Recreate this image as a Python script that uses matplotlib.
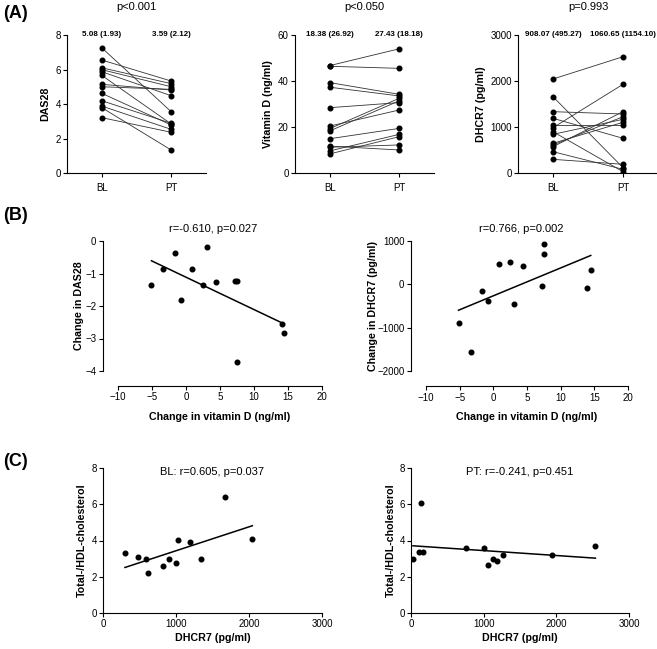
import numpy as np
import matplotlib
matplotlib.use("Agg")
import matplotlib.pyplot as plt

plt.rcParams["font.family"] = ["Liberation Sans Narrow", "Liberation Sans", "DejaVu Sans"]

# (A) paired values, baseline (BL) and post-treatment (PT), one entry per patient
das28_bl = [7.26, 6.55, 6.10, 5.99, 5.87, 5.66, 5.14, 5.00, 4.62, 4.19, 3.88, 3.79, 3.21]
das28_pt = [3.55, 5.33, 5.18, 5.00, 4.48, 2.84, 4.81, 4.85, 2.78, 2.88, 2.53, 1.33, 2.36]
vitd_bl = [46.7, 46.4, 39.3, 37.3, 28.4, 20.4, 19.3, 18.3, 14.9, 11.7, 11.2, 9.6, 8.3]
vitd_pt = [54.0, 45.5, 34.2, 33.5, 30.6, 27.4, 32.5, 31.4, 19.4, 10.0, 12.2, 16.8, 15.8]
dhcr7_bl = [2043, 1659, 1333, 1189, 1043, 985, 898, 841, 646, 609, 572, 463, 297]
dhcr7_pt = [2528, 116, 1283, 754, 1043, 1928, 28, 1167, 1102, 1224, 1333, 80, 189]
groups = ["BL", "PT"]

# (B) changes (PT - BL)
d_vitd_1 = [-5.08, -3.36, -1.64, -0.75, 0.92, 2.54, 3.13, 4.41, 7.22, 7.56, 7.56, 14.1, 14.45]
d_das28 = [-1.34, -0.85, -0.36, -1.80, -0.87, -1.36, -0.18, -1.26, -1.24, -1.23, -3.72, -2.54, -2.82]
d_vitd_2 = [-5.17, -3.34, -1.61, -0.77, 0.85, 2.53, 3.07, 4.36, 7.17, 7.51, 7.56, 13.98, 14.47]
d_dhcr7 = [-900, -1560, -147, -387, 480, 518, -456, 433, -46, 936, 696, -93, 340]

# (C) DHCR7 vs total/HDL cholesterol ratio
bl_dhcr7 = [301, 475, 594, 612, 822, 909, 995, 1032, 1192, 1347, 1667, 2046]
bl_chol = [3.33, 3.07, 2.96, 2.19, 2.57, 2.96, 2.76, 4.04, 3.90, 2.96, 6.40, 4.06]
pt_dhcr7 = [27, 110, 133, 169, 751, 999, 1063, 1122, 1186, 1269, 1938, 2538]
pt_chol = [2.96, 3.38, 6.05, 3.35, 3.57, 3.57, 2.65, 3.00, 2.89, 3.20, 3.18, 3.71]

W, H = 657, 649
TICK = 7
LAB = 7.7


def rect(left, top, right, bottom):
    return [left / W, 1 - bottom / H, (right - left) / W, (bottom - top) / H]


def style(ax):
    for s in ("top", "right"):
        ax.spines[s].set_visible(False)
    for s in ("left", "bottom"):
        ax.spines[s].set_linewidth(0.8)
    ax.tick_params(labelsize=TICK, length=3, width=0.8, pad=1.5)


def paired(ax, bl, pt, ymax, step, ylabel, means, p, labx):
    for a, b in zip(bl, pt):
        ax.plot([0, 1], [a, b], color="#333333", lw=0.6, zorder=1)
    ax.scatter([0] * len(bl), bl, s=11, color="black", zorder=2)
    ax.scatter([1] * len(pt), pt, s=11, color="black", zorder=2)
    ax.set_xlim(-0.5, 1.5)
    ax.set_ylim(0, ymax)
    ax.set_xticks([0, 1])
    ax.set_xticklabels(groups, fontsize=TICK + 0.5)
    ax.set_yticks(np.arange(0, ymax + 1, step))
    style(ax)
    ax.tick_params(axis="x", pad=4)
    ax.set_ylabel(ylabel, fontsize=LAB, fontweight="bold")
    ax.yaxis.set_label_coords(labx, 0.5)
    ax.text(0, ymax, means[0], ha="center", va="center", fontsize=5.8, fontweight="bold")
    ax.text(1, ymax, means[1], ha="center", va="center", fontsize=5.8, fontweight="bold")
    ax.text(0.5, 1.2, p, transform=ax.transAxes, ha="center", va="center", fontsize=8)


def scatter_fit(ax, x, y, title, tx, ty):
    ax.scatter(x, y, s=11, color="black", zorder=2)
    k, c = np.polyfit(x, y, 1)
    xs = np.array([min(x), max(x)])
    ax.plot(xs, k * xs + c, color="black", lw=1.1)
    ax.text(tx, ty, title, transform=ax.transAxes, ha="center", va="center", fontsize=8)
    style(ax)


fig = plt.figure(figsize=(W / 100, H / 100), dpi=100)

# (A)
a1 = fig.add_axes(rect(67, 35, 206, 173))
paired(a1, das28_bl, das28_pt, 8, 2, "DAS28", ["5.08 (1.93)", "3.59 (2.12)"], "p<0.001", -0.122)
a2 = fig.add_axes(rect(295, 35, 434, 173))
paired(a2, vitd_bl, vitd_pt, 60, 20, "Vitamin D (ng/ml)", ["18.38 (26.92)", "27.43 (18.18)"], "p<0.050", -0.158)
a3 = fig.add_axes(rect(518, 35, 658, 173))
paired(a3, dhcr7_bl, dhcr7_pt, 3000, 1000, "DHCR7 (pg/ml)", ["908.07 (495.27)", "1060.65 (1154.10)"], "p=0.993", -0.229)

# (B)
b1 = fig.add_axes(rect(118, 241, 322, 371))
scatter_fit(b1, d_vitd_1, d_das28, "r=-0.610, p=0.027", 0.465, 1.09)
b1.set_xlim(-10, 20)
b1.set_ylim(-4, 0)
b1.set_xticks(np.arange(-10, 21, 5))
b1.set_yticks([0, -1, -2, -3, -4])
b1.spines["left"].set_position(("outward", 11))
b1.spines["bottom"].set_position(("outward", 10.5))
b1.set_ylabel("Change in DAS28", fontsize=LAB, fontweight="bold")
b1.yaxis.set_label_coords(-0.167, 0.5)
b1.set_xlabel("Change in vitamin D (ng/ml)", fontsize=LAB, fontweight="bold")
b1.xaxis.set_label_coords(0.5, -0.315)

b2 = fig.add_axes(rect(426, 241, 628, 371))
scatter_fit(b2, d_vitd_2, d_dhcr7, "r=0.766, p=0.002", 0.47, 1.09)
b2.set_xlim(-10, 20)
b2.set_ylim(-2000, 1000)
b2.set_xticks(np.arange(-10, 21, 5))
b2.set_yticks([1000, 0, -1000, -2000])
b2.spines["left"].set_position(("outward", 11))
b2.spines["bottom"].set_position(("outward", 11))
b2.set_ylabel("Change in DHCR7 (pg/ml)", fontsize=LAB, fontweight="bold")
b2.yaxis.set_label_coords(-0.24, 0.5)
b2.set_xlabel("Change in vitamin D (ng/ml)", fontsize=LAB, fontweight="bold")
b2.xaxis.set_label_coords(0.5, -0.315)

# (C)
for ax_rect, x, y, title, lx in [
    (rect(103, 468, 322, 613), bl_dhcr7, bl_chol, "BL: r=0.605, p=0.037", -0.073),
    (rect(411, 468, 629, 613), pt_dhcr7, pt_chol, "PT: r=-0.241, p=0.451", -0.069),
]:
    c = fig.add_axes(ax_rect)
    scatter_fit(c, x, y, title, 0.5, 0.97)
    c.set_xlim(0, 3000)
    c.set_ylim(0, 8)
    c.set_xticks([0, 1000, 2000, 3000])
    c.set_yticks([0, 2, 4, 6, 8])
    c.set_ylabel("Total-/HDL-cholesterol", fontsize=LAB, fontweight="bold")
    c.yaxis.set_label_coords(lx, 0.5)
    c.set_xlabel("DHCR7 (pg/ml)", fontsize=LAB, fontweight="bold")
    c.xaxis.set_label_coords(0.5, -0.135)

for lab, y in [("(A)", 14), ("(B)", 215), ("(C)", 462)]:
    fig.text(3 / W, 1 - y / H, lab, fontsize=13, fontweight="bold", va="center", ha="left")

fig.savefig("out.png", dpi=100)
